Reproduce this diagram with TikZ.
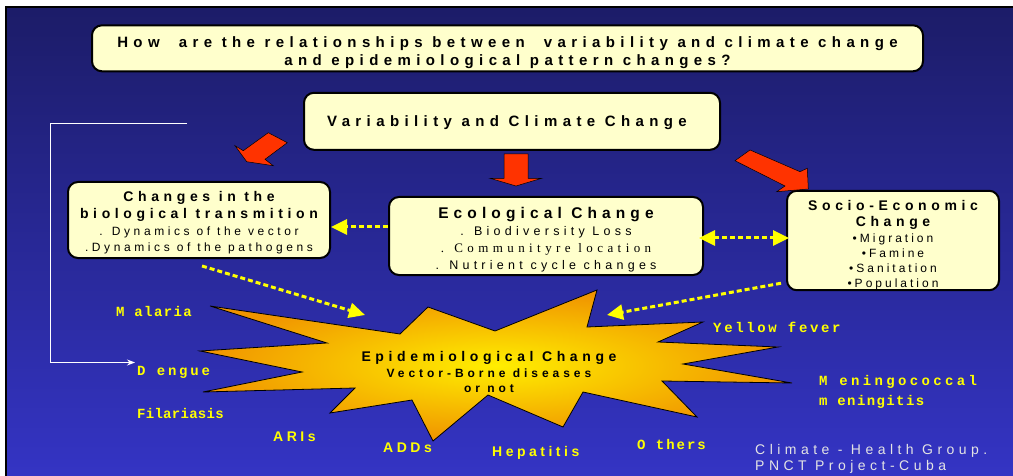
\documentclass[tikz,border=0pt]{standalone}
\usepackage{fontspec}
\setmainfont{Liberation Sans}
\newfontfamily\arsp[LetterSpace=33]{Liberation Sans}
\newfontfamily\arbody[LetterSpace=30]{Liberation Sans}
\newfontfamily\tmsp[LetterSpace=34]{Liberation Serif}
\newfontfamily\crsp{Liberation Mono}
\newcommand{\ls}[1]{\addfontfeature{LetterSpace=#1}}
\usetikzlibrary{arrows.meta}
\definecolor{boxy}{HTML}{FFFFCC}
\definecolor{yel}{HTML}{FFFF00}
\definecolor{redar}{HTML}{FF3300}
\definecolor{bgtop}{HTML}{1C1C68}
\definecolor{bgbot}{HTML}{3434C4}
\definecolor{starin}{HTML}{FFEE00}
\definecolor{starout}{HTML}{F09400}
\definecolor{credit}{HTML}{E4E4E4}
\begin{document}
\begin{tikzpicture}[x=1pt,y=-1pt,
  box/.style={draw=black, line width=2pt, fill=boxy, rounded corners=10pt, inner sep=0pt, align=center},
  dasharrow/.style={draw=yel, line width=3pt, dash pattern=on 5pt off 3pt, -{Triangle[length=16pt,width=15pt]}},
  dasharrows/.style={draw=yel, line width=3pt, dash pattern=on 5pt off 3pt, {Triangle[length=16pt,width=15pt]}-{Triangle[length=16pt,width=15pt]}},
  redarrow/.style={fill=redar, draw=black, line width=0.5pt},
  lab/.style={text=yel, font=\crsp\bfseries\fontsize{14}{16}\selectfont, inner sep=0pt, anchor=west},
  labA/.style={text=yel, font=\arsp\bfseries\fontsize{14}{16}\selectfont\ls{25}, inner sep=0pt, anchor=west},
  hd/.style={font=\arsp\bfseries\fontsize{14}{16.8}\selectfont},
]
\useasboundingbox (0,0) rectangle (1013,476);
\fill[white] (0,0) rectangle (1013,476);
\shade[top color=bgtop, bottom color=bgbot] (7,7) rectangle (1013,476);
\draw[black, line width=2pt] (6,476) -- (6,7) -- (1013,7);

% boxes
\node[box, minimum width=831pt, minimum height=46pt, font=\arsp\bfseries\fontsize{15}{17.5}\selectfont\ls{36}] (q) at (507.5,48.3)
  {\rule{0pt}{20pt}How\ \ are the relationships between\ \ variability and climate change\\and epidemiological pattern changes?};
\node[box, minimum width=416pt, minimum height=57pt, font=\arsp\bfseries\fontsize{15}{17}\selectfont\ls{36}] (v) at (512,121.3)
  {\hspace*{-10pt}Variability and Climate Change\rule{0pt}{14pt}};
\node[box, minimum width=262pt, minimum height=76pt, hd] (chg) at (199,220)
  {\rule{0pt}{16pt}Changes in the\\biological transmition\\{\arbody\mdseries\fontsize{12}{16.8}\selectfont . Dynamics of the vector}\\{\arbody\mdseries\fontsize{12}{16.8}\selectfont .Dynamics of the pathogens}};
\node[box, minimum width=314pt, minimum height=78pt, font=\arsp\bfseries\fontsize{15.5}{17}\selectfont] (eco) at (546,236)
  {\rule{0pt}{18pt}Ecological Change\\{\arbody\mdseries\fontsize{12.5}{17}\selectfont\ls{34} . Biodiversity Loss}\\{\tmsp\mdseries\fontsize{13}{17}\selectfont . Communityre location}\\{\arbody\mdseries\fontsize{12.5}{17}\selectfont\ls{34} . Nutrient cycle changes}};
\node[box, minimum width=212pt, minimum height=97pt, font=\arsp\bfseries\fontsize{14}{15}\selectfont] (soc) at (893,240.5)
  {\rule{0pt}{20pt}Socio-Economic\\[1pt]Change\\[1pt]{\arbody\mdseries\fontsize{12}{15}\selectfont\ls{25} •Migration}\\{\arbody\mdseries\fontsize{12}{15}\selectfont\ls{25} •Famine}\\{\arbody\mdseries\fontsize{12}{15}\selectfont\ls{25} •Sanitation}\\{\arbody\mdseries\fontsize{12}{15}\selectfont\ls{25} •Population}};

% red arrows
\draw[redarrow] (268.3,132.7) -- (287.3,142.7) -- (265,159.3) -- (273.3,165.7) -- (246.7,161.7) -- (235,145.7) -- (243.3,150.7) -- cycle;
\draw[redarrow] (504,154) -- (528,154) -- (528,178.3) -- (541.7,178.3) -- (516,186) -- (490,178.3) -- (504,178.3) -- cycle;
\draw[redarrow] (735,160.7) -- (750,150) -- (800,171.7) -- (807.3,168.3) -- (808.3,189) -- (776.7,191.7) -- (785,186) -- cycle;

% star
\shade[inner color=starin, outer color=starout, draw=black, line width=0.8pt]
  (210,306) -- (400,334) -- (428,307) -- (495,331) -- (597,290) -- (587,327) -- (703,322) -- (658,342)
  -- (778,347) -- (683,364) -- (792,383) -- (662,381) -- (697,417) -- (583,392) -- (563,427) -- (488,395)
  -- (433,441) -- (412,400) -- (330,413) -- (355,388) -- (203,392) -- (302,372) -- (200,351) -- (327,343) -- cycle;
\node[inner sep=0pt, align=center, font=\arsp\bfseries\fontsize{14}{15.5}\selectfont] (epi) at (489,372)
  {Epidemiological Change\\{\fontsize{12}{15.5}\selectfont Vector-Borne diseases}\\{\fontsize{12}{15.5}\selectfont or not}};
\coordinate (epiL) at (365,315);
\coordinate (epiR) at (607,315);

% yellow dashed connectors
\draw[dasharrow] ([yshift=9pt]eco.west) -- ([yshift=9pt]eco.west -| chg.east);
\draw[dasharrows, shorten <=-5pt, shorten >=-3pt] ([yshift=-2pt]eco.east) -- ([yshift=-2pt]eco.east -| soc.west);
\draw[dasharrow] ([shift={(3pt,-7pt)}]chg.south) -- (epiL);
\draw[dasharrow] ([shift={(-5pt,8pt)}]soc.south west) -- (epiR);

% white connector
\coordinate (w1) at (187,123.5);
\coordinate (w2) at (135,362.5);
\draw[white, line width=1pt, -{Stealth[length=8pt,width=6pt]}] (w1) -- (50.5,123.5) -- (50.5,362.5) -- (w2);

% disease labels
\node[lab] (mal) at (116,311) {\ls{10}M alaria};
\node[lab] (den) at (137,372) {\ls{20}D engue};
\node[lab] (fil) at (137,413) {\ls{2}Filariasis};
\node[labA] (ari) at (273,437) {ARIs};
\node[labA] (add) at (383,448) {ADDs};
\node[labA] (hep) at (492,453) {Hepatitis};
\node[lab] (oth) at (637,444) {\ls{14}O thers};
\node[lab] (yf) at (713,327) {\ls{19}Yellow fever};
\node[lab, align=left, font=\crsp\bfseries\fontsize{14}{19.5}\selectfont] (men) at (819,392) {{\ls{24}M eningococcal}\\{\ls{10}m eningitis}};
\node[inner sep=0pt, anchor=west, align=left, text=credit, font=\arsp\fontsize{14}{16}\selectfont\ls{32}] (cr) at (755,459)
  {Climate - Health Group.\\PNCT Project-Cuba};
\end{tikzpicture}
\end{document}
